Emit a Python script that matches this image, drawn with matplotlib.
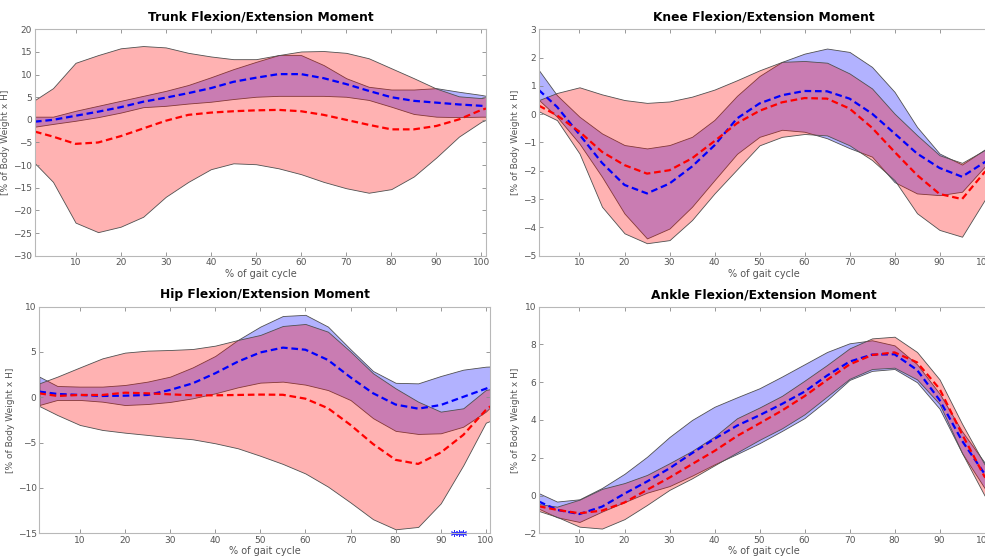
import numpy as np
import matplotlib
matplotlib.use("Agg")
import matplotlib.pyplot as plt

# % of gait cycle sample points
gait = [1, 5, 10, 15, 20, 25, 30, 35, 40, 45, 50, 55, 60, 65, 70, 75, 80, 85, 90, 95, 100, 101]

# Trunk
trunk_red_mean = [-2.6, -3.7, -5.3, -5.0, -3.6, -1.9, -0.2, 1.1, 1.6, 1.9, 2.1, 2.2, 1.9, 1.1, 0.0, -1.1, -2.1, -2.1, -1.35, 0.1, 2.2, 2.5]
trunk_red_up = [4.4, 7.0, 12.6, 14.3, 15.8, 16.3, 16.0, 14.8, 14.0, 13.4, 13.4, 14.3, 15.1, 15.2, 14.8, 13.6, 11.4, 9.2, 6.9, 5.2, 4.8, 5.1]
trunk_red_lo = [-9.6, -13.7, -22.7, -24.8, -23.6, -21.4, -17.0, -13.7, -10.9, -9.6, -9.8, -10.7, -12.0, -13.7, -15.1, -16.1, -15.3, -12.5, -8.3, -3.7, -0.4, 0.0]
trunk_blue_mean = [-0.4, 0.0, 0.9, 1.8, 2.8, 4.0, 4.9, 5.9, 7.0, 8.4, 9.3, 10.1, 10.1, 9.2, 7.9, 6.4, 5.0, 4.2, 3.8, 3.4, 3.1, 3.0]
trunk_blue_up = [0.7, 0.7, 2.0, 3.1, 4.2, 5.3, 6.4, 7.7, 9.4, 11.2, 12.8, 14.3, 14.3, 12.1, 9.2, 7.3, 6.7, 6.7, 7.0, 6.2, 5.5, 5.3]
trunk_blue_lo = [-1.5, -0.9, -0.2, 0.6, 1.6, 2.8, 3.1, 3.6, 4.0, 4.6, 5.1, 5.3, 5.3, 5.3, 5.1, 4.4, 2.9, 1.3, 0.7, 0.6, 0.7, 0.7]

# Knee
knee_red_mean = [0.3, -0.04, -0.62, -1.33, -1.8, -2.1, -1.98, -1.56, -0.95, -0.32, 0.12, 0.42, 0.57, 0.55, 0.2, -0.48, -1.33, -2.15, -2.82, -3.0, -2.05, -1.95]
knee_red_up = [0.5, 0.75, 0.95, 0.7, 0.5, 0.4, 0.45, 0.62, 0.87, 1.2, 1.55, 1.85, 1.88, 1.82, 1.44, 0.91, 0.02, -0.74, -1.45, -1.72, -1.27, -1.15]
knee_red_lo = [0.1, -0.21, -1.39, -3.27, -4.21, -4.56, -4.45, -3.74, -2.8, -1.95, -1.1, -0.8, -0.7, -0.75, -1.1, -1.62, -2.33, -3.5, -4.09, -4.33, -3.04, -2.8]
knee_blue_mean = [0.85, 0.26, -0.72, -1.72, -2.5, -2.8, -2.45, -1.85, -1.1, -0.15, 0.38, 0.67, 0.82, 0.81, 0.55, 0.02, -0.68, -1.39, -1.9, -2.21, -1.7, -1.6]
knee_blue_up = [1.55, 0.67, -0.09, -0.68, -1.09, -1.21, -1.09, -0.8, -0.2, 0.65, 1.35, 1.85, 2.14, 2.32, 2.2, 1.67, 0.79, -0.45, -1.39, -1.78, -1.25, -1.15]
knee_blue_lo = [0.5, -0.09, -1.04, -2.21, -3.51, -4.39, -4.04, -3.27, -2.33, -1.4, -0.8, -0.55, -0.62, -0.85, -1.2, -1.5, -2.4, -2.8, -2.86, -2.74, -1.86, -1.7]

# Hip
hip_red_mean = [0.44, 0.15, 0.26, 0.26, 0.51, 0.44, 0.33, 0.22, 0.22, 0.26, 0.3, 0.28, -0.15, -1.2, -3.05, -5.15, -6.9, -7.35, -6.1, -4.15, -1.4, -1.0]
hip_red_up = [1.54, 2.28, 3.3, 4.3, 4.93, 5.15, 5.22, 5.33, 5.7, 6.32, 6.88, 7.87, 8.09, 7.24, 5.04, 2.65, 0.99, -0.48, -1.58, -1.21, 0.81, 0.9]
hip_red_lo = [-0.96, -1.95, -3.05, -3.6, -3.9, -4.15, -4.41, -4.63, -5.07, -5.62, -6.45, -7.35, -8.4, -9.85, -11.6, -13.45, -14.56, -14.3, -11.7, -7.5, -2.8, -2.6]
hip_blue_mean = [0.63, 0.37, 0.26, 0.15, 0.18, 0.26, 0.81, 1.54, 2.65, 3.93, 4.95, 5.48, 5.25, 4.12, 2.2, 0.45, -0.8, -1.25, -0.85, 0.05, 0.95, 1.15]
hip_blue_up = [2.28, 1.25, 1.18, 1.18, 1.36, 1.73, 2.28, 3.3, 4.56, 6.32, 7.8, 8.97, 9.1, 7.8, 5.3, 2.9, 1.6, 1.54, 2.35, 3.05, 3.38, 3.4]
hip_blue_lo = [-0.85, -0.29, -0.29, -0.48, -0.85, -0.74, -0.51, -0.11, 0.44, 1.1, 1.62, 1.73, 1.4, 0.8, -0.3, -2.3, -3.7, -4.04, -3.97, -3.24, -1.58, -1.1]
hip_sig_x = [93, 94, 95]

# Ankle
ankle_red_mean = [-0.57, -0.76, -0.94, -0.8, -0.37, 0.3, 0.95, 1.66, 2.36, 3.15, 3.82, 4.5, 5.26, 6.12, 6.94, 7.44, 7.58, 7.05, 5.65, 3.25, 1.0, 0.82]
ankle_red_up = [-0.45, -0.59, -0.22, 0.35, 0.66, 1.09, 1.71, 2.36, 3.12, 4.09, 4.66, 5.28, 6.08, 6.91, 7.79, 8.32, 8.41, 7.6, 6.15, 3.8, 1.65, 1.5]
ankle_red_lo = [-0.82, -1.13, -1.65, -1.75, -1.25, -0.5, 0.3, 0.91, 1.6, 2.28, 2.95, 3.56, 4.3, 5.24, 6.18, 6.7, 6.77, 6.15, 4.85, 2.25, 0.0, -0.15]
ankle_blue_mean = [-0.32, -0.76, -0.98, -0.59, 0.1, 0.74, 1.44, 2.24, 3.0, 3.7, 4.25, 4.85, 5.5, 6.35, 7.09, 7.46, 7.48, 6.65, 5.06, 2.9, 1.15, 0.95]
ankle_blue_up = [0.12, -0.32, -0.2, 0.4, 1.15, 2.05, 3.1, 4.0, 4.7, 5.2, 5.68, 6.3, 6.95, 7.6, 8.06, 8.22, 7.95, 6.95, 5.4, 3.4, 1.75, 1.6]
ankle_blue_lo = [-0.7, -1.15, -1.4, -0.85, -0.35, 0.15, 0.5, 1.05, 1.65, 2.2, 2.77, 3.42, 4.1, 5.05, 6.12, 6.6, 6.7, 6.0, 4.6, 2.25, 0.4, 0.3]

grey = "#555555"


def panel(rect, title, ylim, yticks, red, blue):
    ax = fig.add_axes(rect)
    ax.fill_between(gait, blue[1], blue[2], facecolor=(0, 0, 1, 0.3),
                    edgecolor="#505050", linewidth=0.6)
    ax.fill_between(gait, red[1], red[2], facecolor=(1, 0, 0, 0.3),
                    edgecolor="#505050", linewidth=0.6)
    ax.plot(gait, blue[0], color="#0000ff", linestyle="--", dashes=(3, 1.7), linewidth=1.6)
    ax.plot(gait, red[0], color="#ff0000", linestyle="--", dashes=(3, 1.7), linewidth=1.6)
    ax.set_xlim(1, 101)
    ax.set_ylim(*ylim)
    ax.set_xticks(range(10, 101, 10))
    ax.set_yticks(yticks)
    ax.tick_params(direction="in", top=True, right=True, length=3, width=0.6,
                   colors="#888888", labelcolor=grey, labelsize=6.5, pad=2)
    for s in ax.spines.values():
        s.set_color("#b8b8b8")
        s.set_linewidth(0.8)
    ax.set_title(title, fontsize=8.8, fontweight="bold", pad=6)
    ax.set_xlabel("% of gait cycle", fontsize=7, color=grey, labelpad=1)
    ax.set_ylabel("[% of Body Weight x H]", fontsize=6.5, color=grey, labelpad=2)
    return ax


fig = plt.figure(figsize=(9.85, 5.59), dpi=100)

panel([0.0355, 0.5426, 0.4579, 0.405], "Trunk Flexion/Extension Moment", (-30, 20), range(-30, 21, 5),
      (trunk_red_mean, trunk_red_up, trunk_red_lo), (trunk_blue_mean, trunk_blue_up, trunk_blue_lo))
panel([0.5472, 0.5426, 0.4569, 0.405], "Knee Flexion/Extension Moment", (-5, 3), range(-5, 4, 1),
      (knee_red_mean, knee_red_up, knee_red_lo), (knee_blue_mean, knee_blue_up, knee_blue_lo))
ax_hip = panel([0.0399, 0.046, 0.4579, 0.4054], "Hip Flexion/Extension Moment", (-15, 10), range(-15, 11, 5),
               (hip_red_mean, hip_red_up, hip_red_lo), (hip_blue_mean, hip_blue_up, hip_blue_lo))
ax_hip.plot(hip_sig_x, [-15] * len(hip_sig_x), linestyle="none", marker=(6, 2, 0),
            markersize=5, markeredgewidth=0.7, color="#3030ff", clip_on=False)
panel([0.5472, 0.046, 0.4569, 0.4054], "Ankle Flexion/Extension Moment", (-2, 10), range(-2, 11, 2),
      (ankle_red_mean, ankle_red_up, ankle_red_lo), (ankle_blue_mean, ankle_blue_up, ankle_blue_lo))

fig.savefig("out.png", dpi=100)
